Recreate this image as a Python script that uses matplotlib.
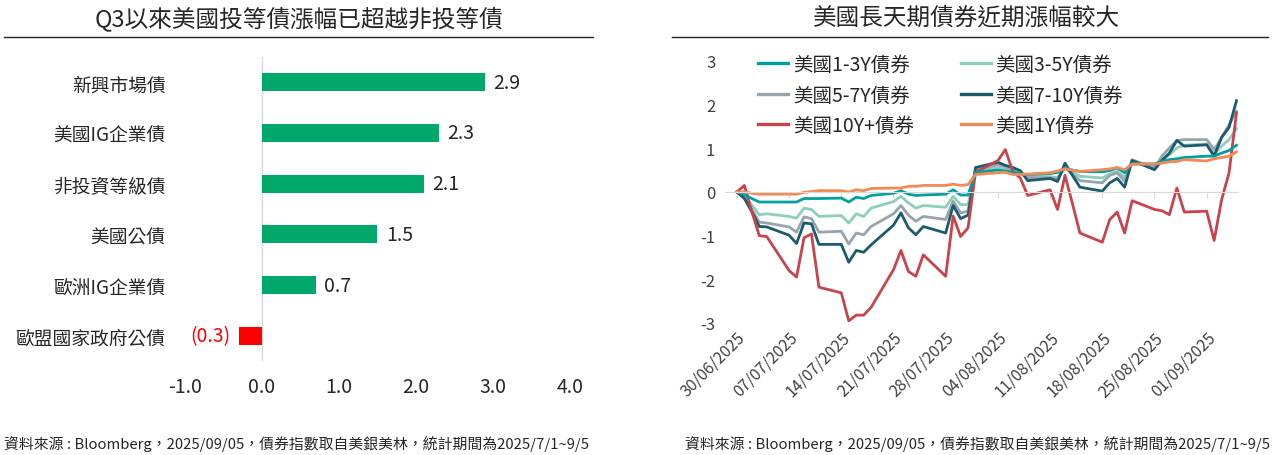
import pandas as pd
import matplotlib
matplotlib.use('Agg')
import matplotlib.pyplot as plt
import matplotlib.dates as mdates
from matplotlib.lines import Line2D

plt.rcParams['font.family'] = ['Noto Sans CJK TC', 'DejaVu Sans']

# ---- left chart: Q3 returns by bond type ----
categories = ['新興市場債', '美國IG企業債', '非投資等級債', '美國公債', '歐洲IG企業債', '歐盟國家政府公債']
returns = [2.9, 2.3, 2.1, 1.5, 0.7, -0.3]
left_ticks = [-1.0, 0.0, 1.0, 2.0, 3.0, 4.0]

# ---- right chart: cumulative return since 30/06/2025 (weekdays) ----
dates = pd.bdate_range('2025-06-30', '2025-09-05')
us_1_3y = [0, -0.06, -0.15, -0.23, -0.23,
           -0.23, -0.23, -0.15, -0.15, -0.15,
           -0.14, -0.23, -0.12, -0.15, -0.08,
           -0.03, 0.03, -0.05, -0.08, -0.07,
           -0.05, 0.05, -0.07, -0.07, 0.45,
           0.50, 0.48, 0.45, 0.42, 0.40,
           0.42, 0.45, 0.55, 0.50, 0.47,
           0.46, 0.49, 0.55, 0.44, 0.64,
           0.64, 0.70, 0.74, 0.76, 0.79,
           0.82, 0.82, 0.89, 0.95, 1.07]
us_3_5y = [0, -0.10, -0.30, -0.52, -0.50,
           -0.56, -0.60, -0.37, -0.40, -0.56,
           -0.54, -0.71, -0.50, -0.56, -0.37,
           -0.22, -0.10, -0.25, -0.37, -0.31,
           -0.35, -0.10, -0.29, -0.29, 0.47,
           0.55, 0.52, 0.46, 0.42, 0.35,
           0.35, 0.33, 0.55, 0.45, 0.36,
           0.32, 0.41, 0.47, 0.34, 0.69,
           0.61, 0.74, 0.85, 1.01, 1.07,
           1.10, 0.87, 1.05, 1.20, 1.45]
us_5_7y = [0, -0.12, -0.40, -0.69, -0.71,
           -0.80, -0.92, -0.57, -0.61, -0.92,
           -0.90, -1.19, -0.94, -0.98, -0.79,
           -0.50, -0.31, -0.53, -0.67, -0.56,
           -0.63, -0.21, -0.48, -0.44, 0.51,
           0.62, 0.58, 0.50, 0.43, 0.33,
           0.32, 0.30, 0.56, 0.40, 0.26,
           0.21, 0.38, 0.44, 0.24, 0.74,
           0.55, 0.82, 1.01, 1.18, 1.20,
           1.20, 0.97, 1.24, 1.54, 1.85]
us_7_10y = [0, -0.15, -0.45, -0.79, -0.80,
            -0.99, -1.18, -0.71, -0.73, -1.20,
            -1.20, -1.61, -1.34, -1.38, -1.21,
            -0.76, -0.48, -0.82, -0.98, -0.79,
            -0.94, -0.31, -0.61, -0.53, 0.56,
            0.68, 0.61, 0.56, 0.49, 0.26,
            0.31, 0.24, 0.66, 0.38, 0.11,
            0.02, 0.21, 0.31, 0.11, 0.72,
            0.51, 0.72, 0.89, 1.18, 1.05,
            1.08, 0.82, 1.25, 1.48, 2.09]
us_10y_plus = [0, 0.15, -0.45, -1.00, -1.02,
               -1.80, -1.95, -1.05, -0.96, -2.18,
               -2.31, -2.95, -2.82, -2.82, -2.64,
               -1.78, -1.34, -1.82, -1.93, -1.44,
               -1.93, -0.55, -1.02, -0.82, 0.45,
               0.72, 0.97, 0.47, 0.32, -0.08,
               0.05, -0.40, 0.38, -0.27, -0.94,
               -1.15, -0.63, -0.46, -0.94, -0.20,
               -0.40, -0.43, -0.52, 0.09, -0.46,
               -0.44, -1.11, -0.18, 0.44, 1.81]
us_1y = [0, 0.0, -0.03, -0.05, -0.05,
         -0.05, -0.05, -0.01, 0.01, 0.03,
         0.03, 0.0, 0.05, 0.03, 0.08,
         0.09, 0.09, 0.13, 0.13, 0.15,
         0.15, 0.18, 0.15, 0.17, 0.40,
         0.44, 0.45, 0.40, 0.40, 0.41,
         0.44, 0.48, 0.53, 0.50, 0.47,
         0.51, 0.53, 0.56, 0.51, 0.64,
         0.64, 0.66, 0.69, 0.70, 0.74,
         0.71, 0.76, 0.79, 0.82, 0.92]
tick_dates = pd.date_range('2025-06-30', '2025-09-01', freq='7D')

source_note = '資料來源 : Bloomberg，2025/09/05，債券指數取自美銀美林，統計期間為2025/7/1~9/5'

green = '#00A86B'
red = '#FF0000'
txt = '#262626'

fig = plt.figure(figsize=(12.73, 4.56), dpi=100)

# titles and separator lines
fig.text(0.2345, 0.960, 'Q3以來美國投等債漲幅已超越非投等債', ha='center', va='center',
         fontsize=17, color=txt)
fig.text(0.7596, 0.960, '美國長天期債券近期漲幅較大', ha='center', va='center',
         fontsize=17, color=txt)
fig.add_artist(Line2D([0.003, 0.466], [0.917, 0.917], color='#262626', lw=1.0))
fig.add_artist(Line2D([0.528, 0.996], [0.917, 0.917], color='#262626', lw=1.0))

# ---- left bar chart ----
ax1 = fig.add_axes([0.1453, 0.206, 0.3024, 0.667])
ypos = list(range(len(categories)))
colors = [green if v >= 0 else red for v in returns]
ax1.barh(ypos, returns, height=0.36, color=colors)
ax1.axvline(0, color='#D9D9D9', lw=1.0, zorder=0)
ax1.set_xlim(-1, 4)
ax1.set_ylim(len(categories) - 0.5, -0.5)
ax1.set_yticks(ypos)
ax1.set_yticklabels(categories, fontsize=13.5, color=txt)
ax1.set_xticks(left_ticks)
ax1.set_xticklabels([f'{t:.1f}' for t in left_ticks], fontsize=14, color=txt)
ax1.tick_params(axis='y', length=0, pad=14)
ax1.tick_params(axis='x', length=0, pad=11)
for s in ax1.spines.values():
    s.set_visible(False)
for y, v in zip(ypos, returns):
    if v >= 0:
        ax1.annotate(f'{v:.1f}', (v, y), xytext=(6, 0), textcoords='offset points',
                     ha='left', va='center', fontsize=14, color=txt)
    else:
        ax1.annotate(f'({abs(v):.1f})', (v, y), xytext=(-6, 0), textcoords='offset points',
                     ha='right', va='center', fontsize=14, color=red)

# ---- right line chart ----
ax2 = fig.add_axes([0.5695, 0.2895, 0.403, 0.5746])
series = [
    ('美國1-3Y債券', us_1_3y, '#00A0A0'),
    ('美國5-7Y債券', us_5_7y, '#98A4AD'),
    ('美國10Y+債券', us_10y_plus, '#C8434B'),
    ('美國3-5Y債券', us_3_5y, '#8DCFBA'),
    ('美國7-10Y債券', us_7_10y, '#1A5B6E'),
    ('美國1Y債券', us_1y, '#F28A55'),
]
draw_order = [3, 1, 4, 2, 0, 5]
handles = {}
for i in draw_order:
    name, vals, col = series[i]
    ln, = ax2.plot(dates, vals, color=col, lw=2.0, label=name)
    handles[i] = ln
ax2.set_ylim(-3, 3)
ax2.set_yticks([-3, -2, -1, 0, 1, 2, 3])
ax2.set_yticklabels(['-3', '-2', '-1', '0', '1', '2', '3'], fontsize=12, color='#404040')
ax2.tick_params(axis='y', length=0, pad=7)
ax2.set_xlim(dates[0] - pd.Timedelta(days=1.6), dates[-1] + pd.Timedelta(days=0.2))
for k in ['top', 'right', 'left']:
    ax2.spines[k].set_visible(False)
ax2.spines['bottom'].set_position(('data', 0))
ax2.spines['bottom'].set_color('#D9D9D9')
ax2.set_xticks(tick_dates)
ax2.tick_params(axis='x', length=4, color='#D9D9D9', labelbottom=False)
sec = ax2.secondary_xaxis(0.0)
sec.set_xticks(tick_dates)
sec.xaxis.set_major_formatter(mdates.DateFormatter('%d/%m/%Y'))
sec.tick_params(axis='x', length=0, pad=4, labelsize=11.5, labelcolor='#404040')
sec.spines['bottom'].set_visible(False)
for lab in sec.get_xticklabels():
    lab.set_rotation(45)
    lab.set_ha('right')
    lab.set_rotation_mode('anchor')

leg = ax2.legend([handles[i] for i in range(6)], [series[i][0] for i in range(6)],
                 ncol=2, loc='upper left', bbox_to_anchor=(0.03, 1.094), frameon=False,
                 fontsize=14, handlelength=1.55, handletextpad=0.25, columnspacing=2.4,
                 labelspacing=0.5, labelcolor=txt)
for h in leg.get_lines():
    h.set_linewidth(2.4)

fig.text(0.003, 0.027, source_note, ha='left', va='center', fontsize=10.7, color=txt)
fig.text(0.998, 0.027, source_note, ha='right', va='center', fontsize=10.7, color=txt)

fig.savefig('out.png', dpi=100)
